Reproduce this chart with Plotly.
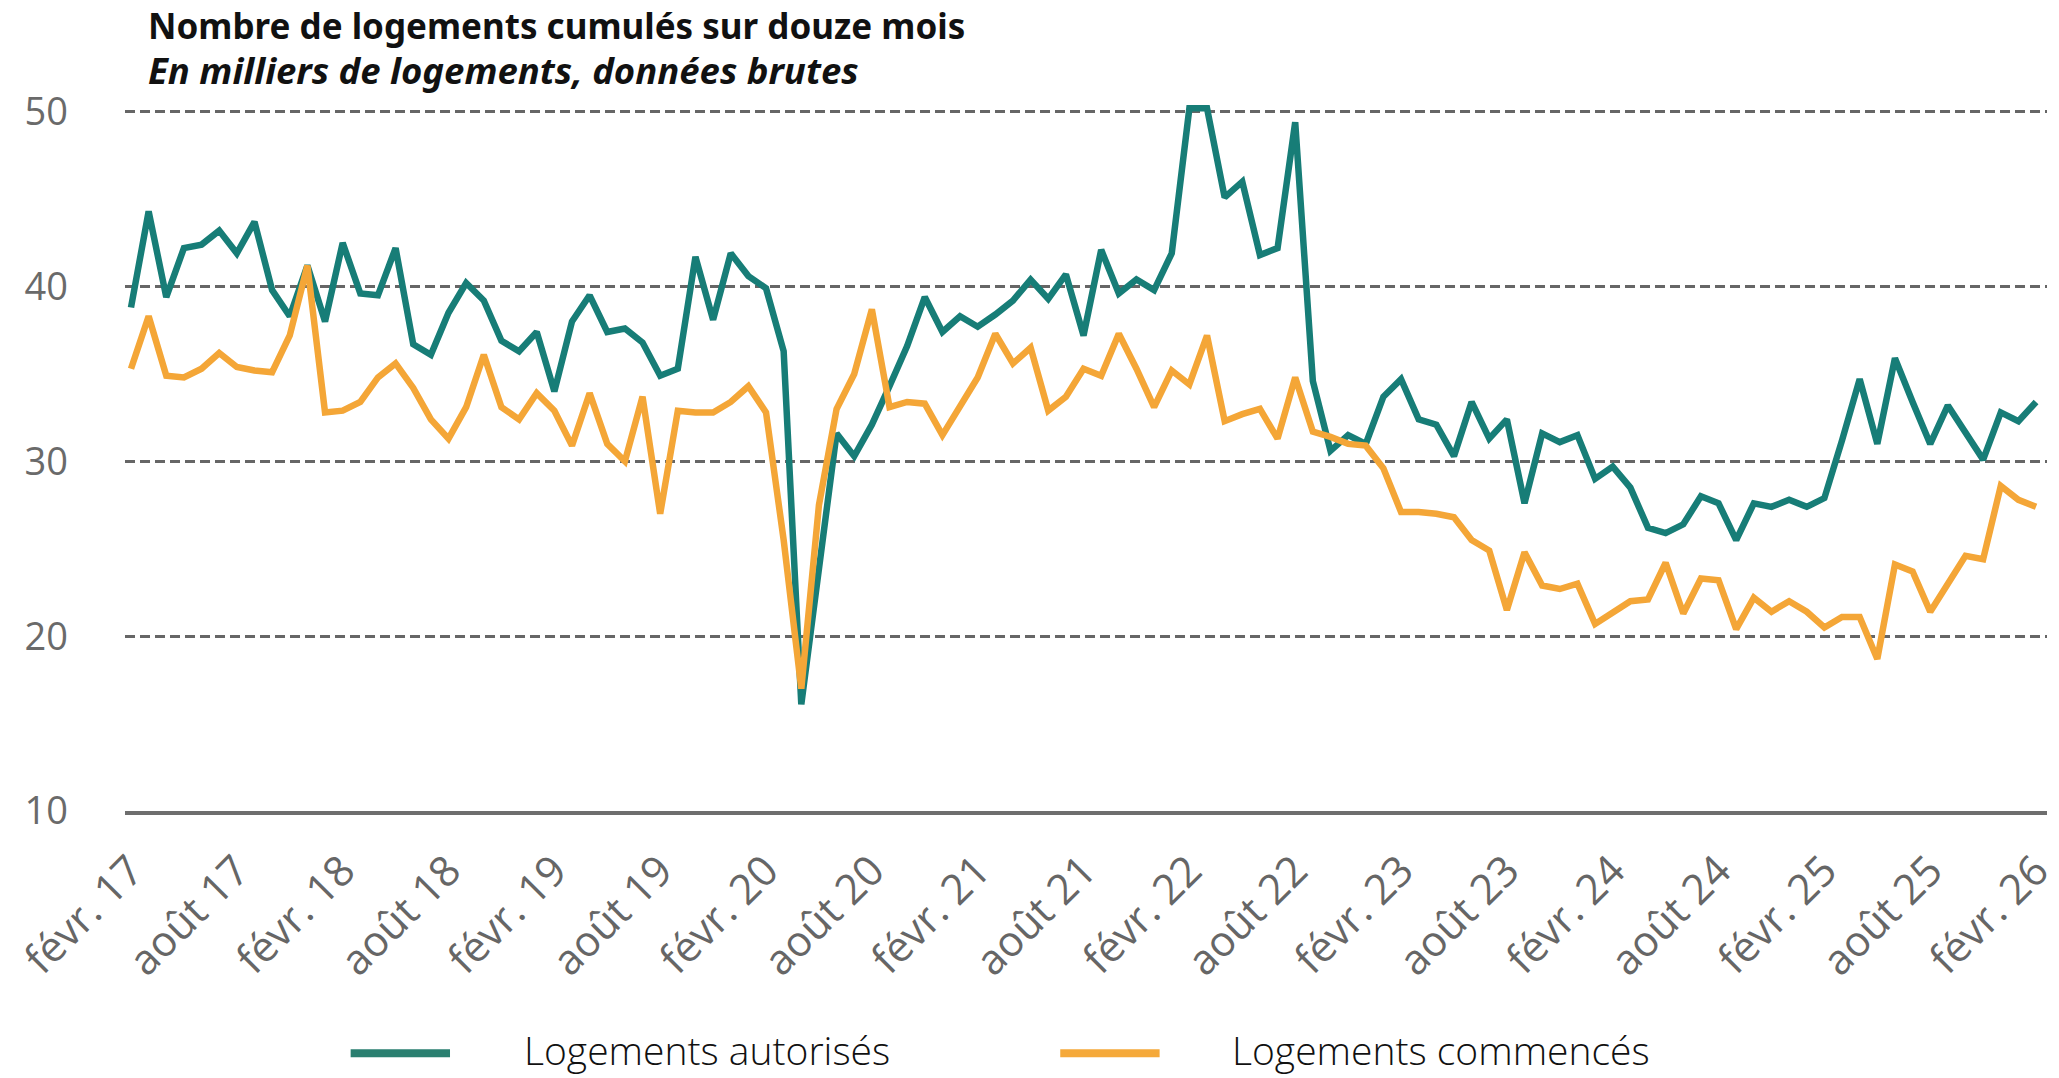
import plotly.graph_objects as go

# Monthly data, Feb 2017 -> Feb 2026 (thousands of dwellings, 12-month cumulative)
autorises = [
    38.8, 44.3, 39.4, 42.2, 42.4, 43.2, 41.9, 43.7, 39.8, 38.3, 41.2, 38.0,
    42.5, 39.6, 39.5, 42.2, 36.7, 36.1, 38.5, 40.2, 39.2, 36.9, 36.3, 37.4,
    34.0, 38.0, 39.5, 37.4, 37.6, 36.8, 34.9, 35.3, 41.7, 38.1, 41.9, 40.6,
    39.9, 36.3, 16.1, 24.0, 31.6, 30.3, 32.1, 34.3, 36.6, 39.4, 37.4, 38.3,
    37.7, 38.4, 39.2, 40.4, 39.3, 40.7, 37.2, 42.1, 39.6, 40.4, 39.8, 41.9,
    50.2, 50.2, 45.1, 46.0, 41.8, 42.2, 49.4, 34.6, 30.6, 31.5, 31.0, 33.7,
    34.7, 32.4, 32.1, 30.3, 33.4, 31.3, 32.4, 27.6, 31.6, 31.1, 31.5, 29.0,
    29.7, 28.5, 26.2, 25.9, 26.4, 28.0, 27.6, 25.5, 27.6, 27.4, 27.8, 27.4,
    27.9, 31.2, 34.7, 31.0, 35.9, 33.4, 31.0, 33.2, 31.6, 30.1, 32.8, 32.3,
    33.4,
]
commences = [
    35.3, 38.3, 34.9, 34.8, 35.3, 36.2, 35.4, 35.2, 35.1, 37.2, 41.2, 32.8,
    32.9, 33.4, 34.8, 35.6, 34.2, 32.4, 31.3, 33.1, 36.1, 33.1, 32.4, 33.9,
    32.9, 30.9, 33.9, 31.0, 30.0, 33.7, 27.0, 32.9, 32.8, 32.8, 33.4, 34.3,
    32.8, 25.5, 17.0, 27.5, 33.0, 35.0, 38.7, 33.1, 33.4, 33.3, 31.5, 33.1,
    34.8, 37.3, 35.6, 36.5, 32.9, 33.7, 35.3, 34.9, 37.3, 35.3, 33.1, 35.2,
    34.4, 37.2, 32.3, 32.7, 33.0, 31.3, 34.8, 31.7, 31.4, 31.0, 30.9, 29.6,
    27.1, 27.1, 27.0, 26.8, 25.5, 24.9, 21.5, 24.8, 22.9, 22.7, 23.0, 20.7,
    21.4, 22.0, 22.1, 24.2, 21.3, 23.3, 23.2, 20.4, 22.2, 21.4, 22.0, 21.4,
    20.5, 21.1, 21.1, 18.7, 24.1, 23.7, 21.4, 23.0, 24.6, 24.4, 28.6, 27.8,
    27.4,
]
tick_labels = [
    "févr. 17", "août 17", "févr. 18", "août 18", "févr. 19", "août 19",
    "févr. 20", "août 20", "févr. 21", "août 21", "févr. 22", "août 22",
    "févr. 23", "août 23", "févr. 24", "août 24", "févr. 25", "août 25",
    "févr. 26",
]
series_names = ["Logements autorisés", "Logements commencés"]
y_ticks = [10, 20, 30, 40, 50]

TEAL = "#177d77"
ORANGE = "#f4a637"

months = list(range(len(autorises)))
tick_pos = months[::6]

fig = go.Figure()
fig.add_trace(go.Scatter(x=months, y=autorises, mode="lines", name=series_names[0],
                         line=dict(color=TEAL, width=6.5)))
fig.add_trace(go.Scatter(x=months, y=commences, mode="lines", name=series_names[1],
                         line=dict(color=ORANGE, width=6.5)))

fig.update_layout(
    width=2059, height=1078,
    margin=dict(l=125, r=0, t=103, b=267),
    plot_bgcolor="white", paper_bgcolor="white",
    showlegend=False,
    font=dict(family="Open Sans"),
)
fig.update_xaxes(
    range=[-0.34, 108.62],
    tickvals=tick_pos, ticktext=tick_labels, tickangle=-45,
    tickfont=dict(family="Open Sans", size=42, color="#666666"),
    showgrid=False, zeroline=False, ticks="",
    showline=True, linecolor="#6e6e6e", linewidth=4,
    ticklabelstandoff=14, ticklabeloverflow="allow",
)
fig.update_yaxes(
    range=[10, 50.5], tickvals=y_ticks,
    tickfont=dict(family="Open Sans", size=38, color="#6a6a6a"),
    showgrid=True, gridcolor="#666666", gridwidth=2.5, griddash="10px,5px",
    zeroline=False, ticks="", showline=False,
    ticklabelstandoff=56,
)

# Title and subtitle
fig.add_annotation(text="<b>Nombre de logements cumulés sur douze mois</b>",
                   xref="paper", yref="paper", x=0.0110, y=1.110,
                   xanchor="left", yanchor="middle", showarrow=False,
                   font=dict(family="Noto Sans", size=35, color="#111111"))
fig.add_annotation(text="<b><i>En milliers de logements, données brutes</i></b>",
                   xref="paper", yref="paper", x=0.0110, y=1.0466,
                   xanchor="left", yanchor="middle", showarrow=False,
                   font=dict(family="Noto Sans", size=36.5, color="#111111"))

# Manual legend
leg_y = -0.3420
for (x0, x1, tx, col, name) in [
    (0.1174, 0.1691, 0.2068, "#2a7f70", series_names[0]),
    (0.4866, 0.5383, 0.5750, "#f5a93a", series_names[1]),
]:
    fig.add_shape(type="line", xref="paper", yref="paper", x0=x0, x1=x1,
                  y0=leg_y, y1=leg_y, line=dict(color=col, width=8))
    fig.add_annotation(text=name, xref="paper", yref="paper", x=tx, y=-0.3365,
                       xanchor="left", yanchor="middle", showarrow=False,
                       font=dict(family="Open Sans", size=39, weight=300, color="#111111"))

fig.write_html("out.html", config={"displayModeBar": False},
               post_script="document.body.style.margin='0';")
